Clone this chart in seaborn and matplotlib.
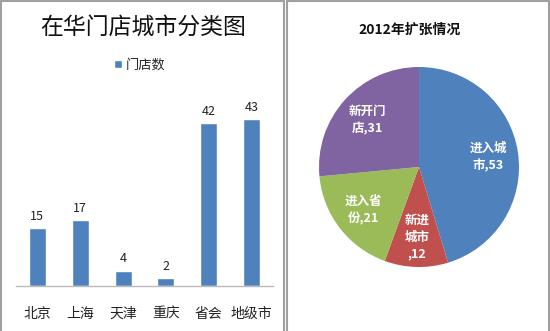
import matplotlib
matplotlib.use("Agg")
import matplotlib.pyplot as plt
from matplotlib.lines import Line2D
import seaborn as sns
import pandas as pd

# Store counts by city category
cities = ["北京", "上海", "天津", "重庆", "省会", "地级市"]
store_counts = [15, 17, 4, 2, 42, 43]
bar_series = "门店数"
bar_title = "在华门店城市分类图"

# 2012 expansion breakdown
pie_title = "2012年扩张情况"
pie_label_templates = ["进入城\n市,{}", "新进\n城市\n,{}", "进入省\n份,{}", "新开门\n店,{}"]
pie_values = [53, 12, 21, 31]
pie_colors = ["#4F81BD", "#C0504D", "#9BBB59", "#8064A2"]

sns.set_theme(style="white")
plt.rcParams["font.family"] = ["Noto Sans CJK SC", "DejaVu Sans"]

W, H = 550, 331
fig = plt.figure(figsize=(W / 100, H / 100), dpi=100)
fig.patch.set_facecolor("white")

def fx(px):
    return px / W

def fy(py):
    return 1 - py / H

# ---- left: bar chart ----
ax1 = fig.add_axes([fx(16), fy(286), fx(273) - fx(16), fy(100) - fy(286)])
df = pd.DataFrame({"city": cities, "count": store_counts})
sns.barplot(data=df, x="city", y="count", color="#4F81BD", width=0.4,
            saturation=1, label=bar_series, ax=ax1)
ax1.set_ylim(0, 48)
ax1.set_xlim(-0.5, len(cities) - 0.5)
for i, v in enumerate(store_counts):
    ax1.text(i, v + 1.3, str(v), ha="center", va="bottom", fontsize=9, color="#222222")
ax1.set_xlabel("")
ax1.set_ylabel("")
ax1.set_yticks([])
ax1.tick_params(axis="x", length=0, labelsize=10, pad=15, colors="#222222")
for s in ["top", "right", "left"]:
    ax1.spines[s].set_visible(False)
ax1.spines["bottom"].set_color("#BBBBBB")
ax1.spines["bottom"].set_linewidth(1)
ax1.set_facecolor("none")
leg = ax1.legend(loc="center", bbox_to_anchor=(fx(140), fy(65)),
                 bbox_transform=fig.transFigure, frameon=False, fontsize=9.5,
                 handlelength=0.6, handleheight=0.6, handletextpad=0.3)
fig.text(fx(143), fy(28), bar_title, ha="center", va="center", fontsize=16.5, color="#111111")

# ---- right: pie chart ----
r = 100
ax2 = fig.add_axes([fx(419 - r), fy(167 + r), fx(2 * r), 2 * r / H])
pie_labels = [t.format(v) for t, v in zip(pie_label_templates, pie_values)]
wedges, texts = ax2.pie(pie_values, colors=pie_colors, startangle=90, counterclock=False,
                        labels=pie_labels, labeldistance=0.7, radius=1,
                        wedgeprops=dict(linewidth=0),
                        textprops=dict(color="white", fontsize=9, fontweight="bold",
                                       ha="center", va="center", linespacing=1.4))
for t in texts:
    t.set_horizontalalignment("center")
    t.set_multialignment("center")
ax2.set_xlim(-1, 1)
ax2.set_ylim(-1, 1)
ax2.set_aspect("equal")
ax2.axis("off")
fig.text(fx(410), fy(30), pie_title, ha="center", va="center", fontsize=10,
         fontweight="bold", color="#111111")

# ---- panel borders (left, top, right edges of each panel) ----
grey = "#A0A0A0"

def panel_frame(x0, x1, y0=1, y1=331):
    for xs, ys in [((x0, x0), (y1, y0)), ((x0, x1), (y0, y0)), ((x1, x1), (y0, y1))]:
        fig.add_artist(Line2D([fx(v) for v in xs], [fy(v) for v in ys],
                              transform=fig.transFigure, color=grey, linewidth=1.5))

panel_frame(1, 284)
panel_frame(287, 548.5)

fig.savefig("out.png", dpi=100)
